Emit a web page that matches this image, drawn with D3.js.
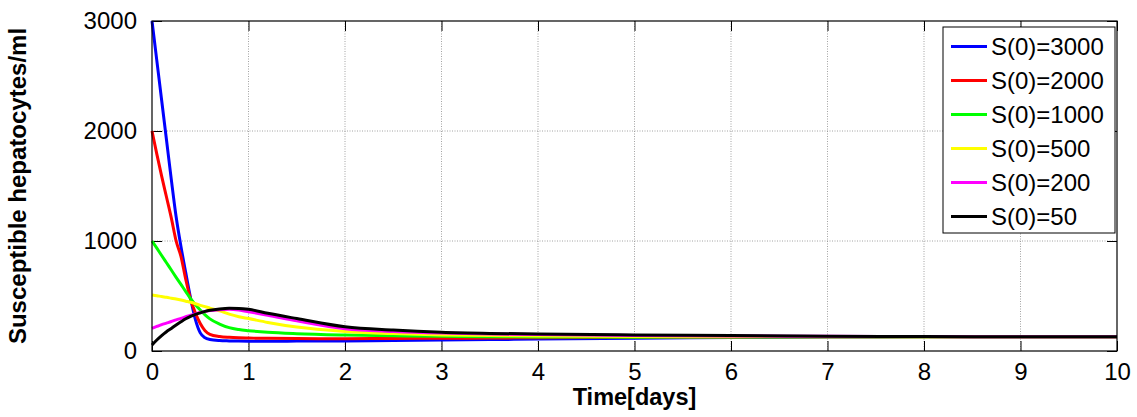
<!DOCTYPE html>
<html>
<head>
<meta charset="utf-8">
<script src="https://cdnjs.cloudflare.com/ajax/libs/d3/7.8.5/d3.min.js"></script>
<style>
  html, body { margin: 0; padding: 0; background: #fff; }
  svg { display: block; font-family: "Liberation Sans", Arial, sans-serif; }
</style>
</head>
<body>
<svg id="chart" width="1137" height="417"></svg>
<script>
// ---- data ----
const timeDays = [0,0.05,0.1,0.15,0.2,0.25,0.3,0.35,0.4,0.45,0.5,0.55,0.6,0.7,0.8,0.9,1,1.2,1.5,2,2.5,3,3.5,4,5,6,7,8,9,10];
const s3000 = [3000,2640,2280,1920,1560,1220,950,710,480,285,165,120,105,95,92,90,89,89,90,92,96,100,104,108,116,122,127,129,130,130];
const s2000 = [2000,1790,1590,1400,1210,1000,860,650,470,345,250,185,152,132,124,120,118,115,113,112,114,116,118,121,125,128,130,130,130,130];
const s1000 = [1000,935,868,802,736,670,605,540,475,420,372,328,292,245,212,195,185,170,157,145,138,133,130,128,126,127,129,130,130,130];
const s500  = [510,503,495,488,480,472,463,453,443,430,415,403,390,365,335,312,295,260,218,178,158,146,140,136,132,130,130,130,130,130];
const s200  = [206,223,240,254,268,283,297,311,325,338,350,359,367,376,379,372,357,325,275,203,178,163,155,150,142,137,133,131,130,130];
const s50   = [55,100,140,175,205,237,266,293,315,333,347,360,370,382,388,387,379,343,295,220,190,170,160,155,146,140,134,131,130,130];
const seriesNames = ["S(0)=3000","S(0)=2000","S(0)=1000","S(0)=500","S(0)=200","S(0)=50"];
const seriesValues = [s3000, s2000, s1000, s500, s200, s50];
const seriesColors = ["#0000ff","#ff0000","#00ff00","#ffff00","#ff00ff","#000000"];
const xTicks = [0,1,2,3,4,5,6,7,8,9,10];
const yTicks = [0,1000,2000,3000];
const xTitle = "Time[days]";
const yTitle = "Susceptible hepatocytes/ml";

// ---- layout ----
const svg = d3.select("#chart");
const L = 152, R = 1117, T = 21, B = 351;
const x = d3.scaleLinear().domain([0,10]).range([L,R]);
const y = d3.scaleLinear().domain([0,3000]).range([B,T]);

svg.append("rect").attr("width",1137).attr("height",417).attr("fill","#fff");

// grid
const grid = svg.append("g").attr("stroke","#8c8c8c").attr("stroke-width",0.8).attr("stroke-dasharray","1,1.5");
grid.selectAll("line.gx").data(xTicks.slice(1,-1)).enter().append("line")
  .attr("x1",d=>x(d)).attr("x2",d=>x(d)).attr("y1",T).attr("y2",B);
grid.selectAll("line.gy").data(yTicks.slice(1,-1)).enter().append("line")
  .attr("x1",L).attr("x2",R).attr("y1",d=>y(d)).attr("y2",d=>y(d));

// axes (inward ticks on all sides)
const fs = 24;
const fmt = d3.format("d");
const xAxisB = d3.axisBottom(x).tickValues(xTicks).tickFormat(fmt).tickSizeInner(-10).tickSizeOuter(0).tickPadding(12);
const xAxisT = d3.axisTop(x).tickValues(xTicks).tickSizeInner(-10).tickSizeOuter(0).tickFormat("");
const yAxisL = d3.axisLeft(y).tickValues(yTicks).tickFormat(fmt).tickSizeInner(-10).tickSizeOuter(0).tickPadding(15);
const yAxisR = d3.axisRight(y).tickValues(yTicks).tickSizeInner(-10).tickSizeOuter(0).tickFormat("");

function styleAxis(g){
  g.select(".domain").remove();
  g.selectAll(".tick line").attr("stroke","#000").attr("stroke-width",1);
  g.selectAll(".tick text").attr("fill","#000").style("font-size",fs+"px").style("font-family","'Liberation Sans', Arial, sans-serif");
}
svg.append("g").attr("transform",`translate(0,${B})`).call(xAxisB).call(styleAxis);
svg.append("g").attr("transform",`translate(0,${T})`).call(xAxisT).call(styleAxis);
svg.append("g").attr("transform",`translate(${L},0)`).call(yAxisL).call(styleAxis);
svg.append("g").attr("transform",`translate(${R},0)`).call(yAxisR).call(styleAxis);

// lines
const line = d3.line().x((d,i)=>x(timeDays[i])).y(d=>y(d)).curve(d3.curveMonotoneX);
const plot = svg.append("g");
seriesValues.forEach((vals,k)=>{
  plot.append("path").datum(vals).attr("d",line)
    .attr("fill","none").attr("stroke",seriesColors[k]).attr("stroke-width",3)
    .attr("stroke-linejoin","round");
});

// frame
svg.append("rect").attr("x",L).attr("y",T).attr("width",R-L).attr("height",B-T)
  .attr("fill","none").attr("stroke","#000").attr("stroke-width",1.2);

// titles
svg.append("text").attr("x",(L+R)/2).attr("y",405).attr("text-anchor","middle")
  .style("font-size","23.5px").style("font-weight","bold").text(xTitle);
svg.append("text").attr("transform","translate(26,186) rotate(-90)").attr("text-anchor","middle")
  .style("font-size","24px").style("font-weight","bold").text(yTitle);

// legend
const lg = svg.append("g");
lg.append("rect").attr("x",943).attr("y",27).attr("width",172).attr("height",206)
  .attr("fill","#fff").attr("stroke","#000").attr("stroke-width",1);
const rowY = d3.scaleLinear().domain([0,5]).range([46.5,216.5]);
seriesNames.forEach((name,k)=>{
  lg.append("line").attr("x1",951).attr("x2",987).attr("y1",rowY(k)).attr("y2",rowY(k))
    .attr("stroke",seriesColors[k]).attr("stroke-width",3);
  lg.append("text").attr("x",991).attr("y",rowY(k)).attr("dy","0.36em")
    .style("font-size","24px").text(name);
});
</script>
</body>
</html>
